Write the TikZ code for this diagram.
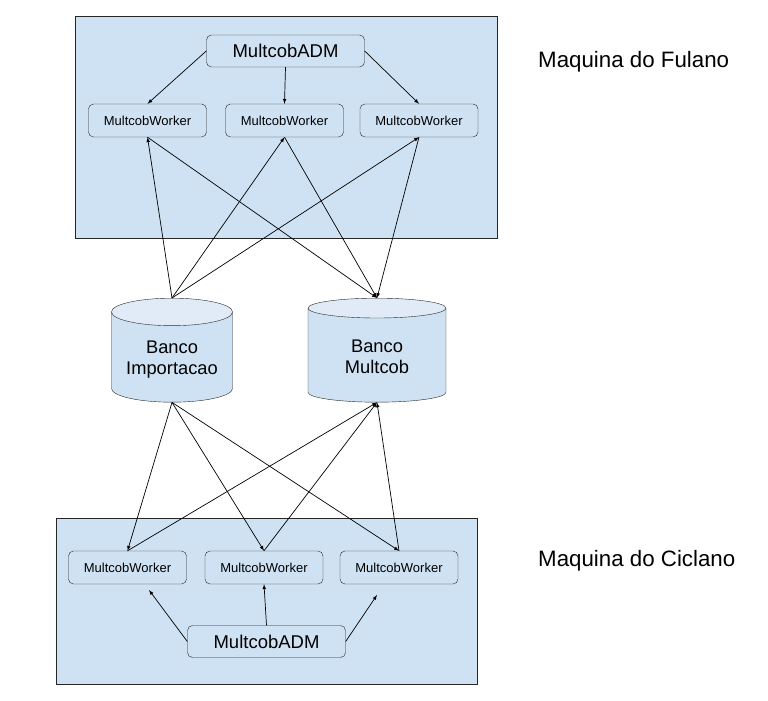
\documentclass[tikz,border=0pt]{standalone}
\usepackage{fontspec}
\setmainfont{Liberation Sans}
\usetikzlibrary{arrows, shapes.geometric}

\definecolor{boxblue}{HTML}{CFE2F3}
\definecolor{capblue}{HTML}{E0EBF7}

\tikzset{
    machine/.style={draw=black!85, fill=boxblue, line width=0.9pt},
    adm/.style={draw=black!85, fill=boxblue, rounded corners=5pt, minimum width=158pt, minimum height=32pt, font=\fontsize{18.5}{22}\selectfont},
    worker/.style={draw=black!85, fill=boxblue, rounded corners=5pt, minimum width=118pt, minimum height=33pt, font=\fontsize{13}{15}\selectfont},
    banco/.style={cylinder, shape border rotate=90, draw=black!85, shape aspect=0.28, cylinder uses custom fill, cylinder body fill=boxblue, cylinder end fill=capblue, minimum height=104pt, align=center, font=\fontsize{18.3}{21}\selectfont},
    rotulo/.style={anchor=base west, inner sep=0pt, font=\fontsize{22.3}{26}\selectfont},
    link/.style={->, >=latex, line width=0.7pt},
}

\begin{document}
\begin{tikzpicture}[x=1pt, y=1pt]
            \useasboundingbox (0,0) rectangle (768,701);

            % as duas maquinas
            \draw[machine] (75,463) rectangle (497,685);
            \draw[machine] (56,17) rectangle (477,183);

            \node[rotulo] (fulano) at (538,633) {Maquina do Fulano};
            \node[rotulo] (ciclano) at (538,134) {Maquina do Ciclano};

            % bancos
            \node[banco, minimum width=121pt, anchor=top] (imp) at (172,403) {Banco\\Importacao};
            \node[banco, minimum width=138pt, anchor=top] (mul) at (377,403) {Banco\\Multcob};

            % Fulano
            \node[adm] (admf) at (285.5,650) {MultcobADM};
            \foreach \x/\n in {147.5/w1, 284.5/w2, 419/w3} {
                \node[worker] (\n) at (\x,580.5) {MultcobWorker};
            }
            \draw[link] (admf.west) -- (w1.north);
            \draw[link] (admf.south) -- (w2.north);
            \draw[link] (admf.east) -- (w3.north);

            % Ciclano
            \node[adm] (admc) at (266.5,59.5) {MultcobADM};
            \foreach \x/\n in {127.5/v1, 264/v2, 399/v3} {
                \node[worker] (\n) at (\x,133.5) {MultcobWorker};
            }
            \coordinate (e1) at (149,111);
            \coordinate (e3) at (377,106);
            \draw[link] (admc.west) -- (e1);
            \draw[link] (admc.north) -- (v2.south);
            \draw[link] (admc.east) -- (e3);

            % ligacoes com os bancos
            \foreach \w in {w1, w2, w3} {
                \draw[link] (imp.top) -- (\w.south);
                \draw[link] (\w.south) -- (mul.top);
            }
            \foreach \v in {v1, v2, v3} {
                \draw[link] (imp.bottom) -- (\v.north);
                \draw[link] (\v.north) -- (mul.bottom);
            }

        \end{tikzpicture}
\end{document}
